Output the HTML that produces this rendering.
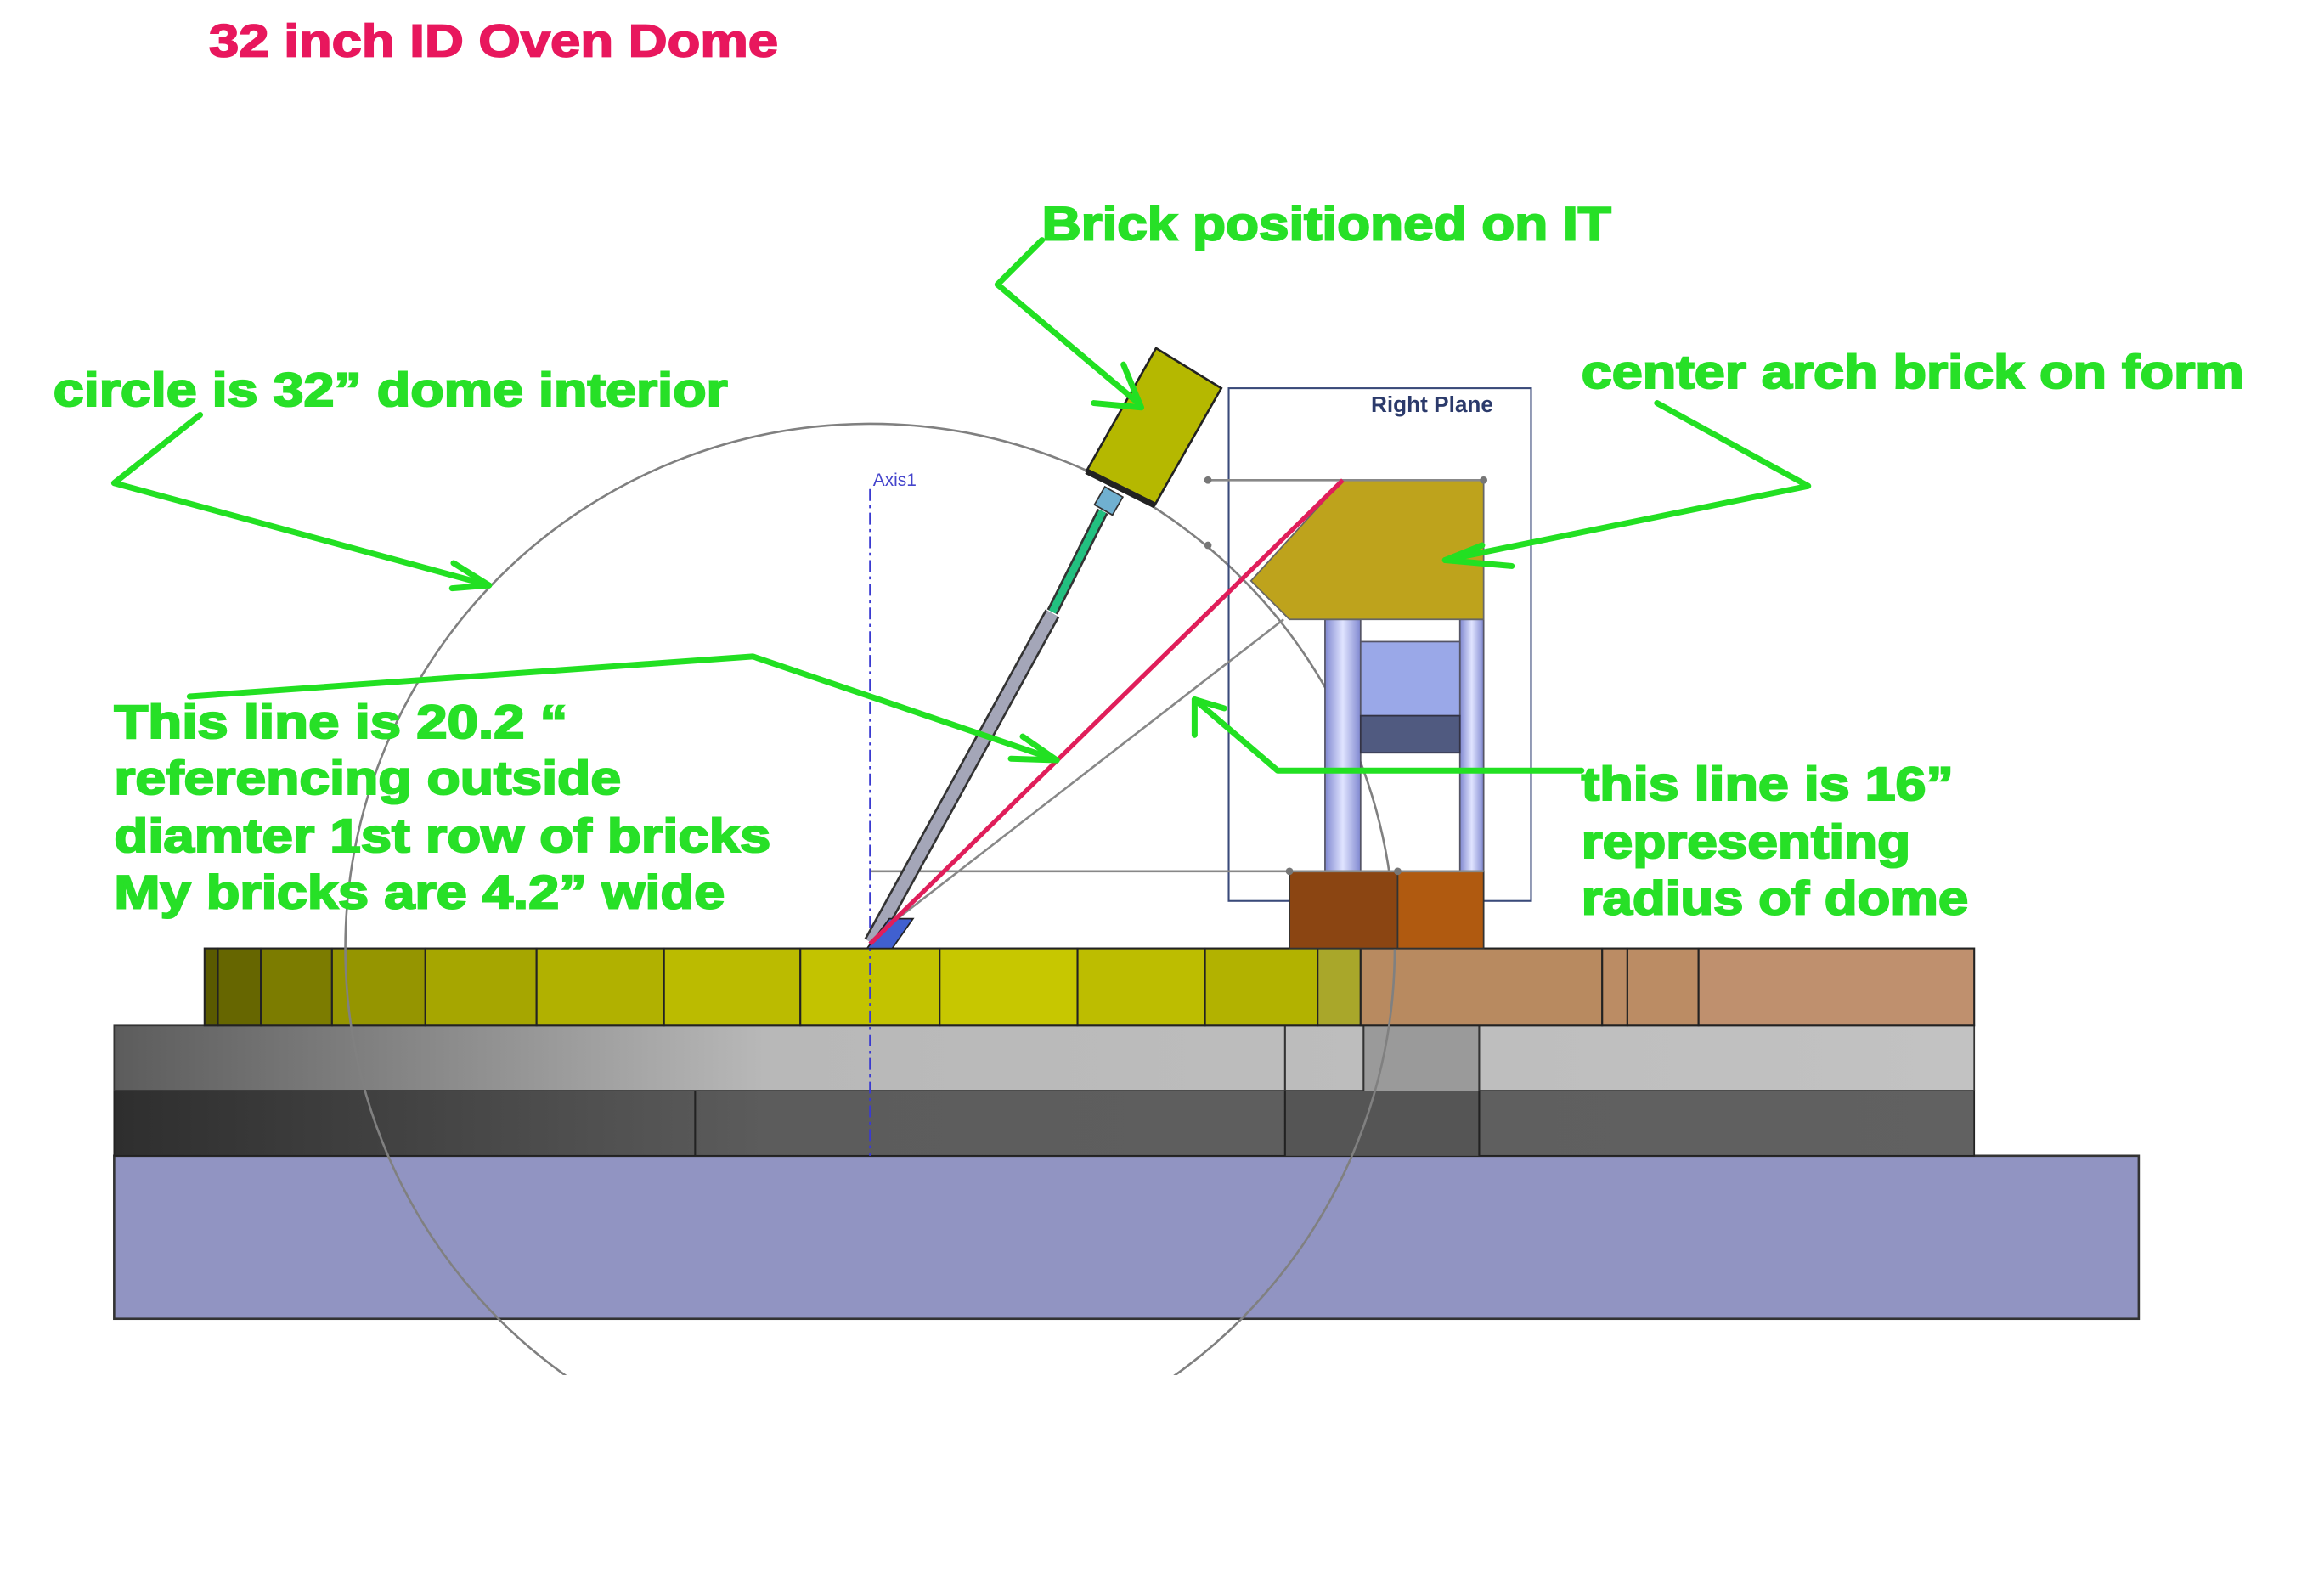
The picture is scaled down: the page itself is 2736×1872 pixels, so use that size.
<!DOCTYPE html>
<html><head><meta charset="utf-8"><style>
html,body{margin:0;padding:0;background:#fff;}
svg{display:block;}
.g{font-family:"Liberation Sans",Arial,sans-serif;font-weight:bold;font-size:32px;fill:#27e027;stroke:#27e027;stroke-width:1.2px;}
</style></head><body>
<svg width="2736" height="1872" viewBox="0 0 1568 1073" preserveAspectRatio="none" xmlns="http://www.w3.org/2000/svg">
<defs>
<linearGradient id="lg1" x1="0" x2="1"><stop offset="0" stop-color="#5c5c5c"/><stop offset="0.35" stop-color="#b8b8b8"/><stop offset="1" stop-color="#c2c2c2"/></linearGradient>
<linearGradient id="lg2" x1="0" x2="1"><stop offset="0" stop-color="#2e2e2e"/><stop offset="0.35" stop-color="#5c5c5c"/><stop offset="1" stop-color="#616161"/></linearGradient>
<linearGradient id="pl" x1="0" x2="1"><stop offset="0" stop-color="#8088d0"/><stop offset="0.5" stop-color="#e0e4ff"/><stop offset="1" stop-color="#8088d0"/></linearGradient>
<clipPath id="cc"><rect x="0" y="0" width="1568" height="928"/></clipPath>
</defs>
<rect width="1568" height="1073" fill="#fff"/>
<text x="141" y="38" font-family="Liberation Sans,Arial,sans-serif" font-weight="bold" font-size="31" fill="#e8175d" stroke="#e8175d" stroke-width="1" textLength="384" lengthAdjust="spacingAndGlyphs">32 inch ID Oven Dome</text>

<rect x="77" y="780" width="1366" height="110" fill="#9194c2" stroke="#333" stroke-width="1.5"/>
<rect x="77" y="736" width="1255" height="44" fill="url(#lg2)" stroke="#222" stroke-width="1"/>
<rect x="867" y="736" width="131" height="44" fill="#555"/>
<g stroke="#222" stroke-width="1.2"><line x1="469" y1="736" x2="469" y2="780"/><line x1="867" y1="736" x2="867" y2="780"/><line x1="998" y1="736" x2="998" y2="780"/></g>
<rect x="77" y="692" width="1255" height="44" fill="url(#lg1)" stroke="#333" stroke-width="1"/>
<rect x="920" y="692" width="78" height="44" fill="#9a9a9a"/>
<g stroke="#333" stroke-width="1.2"><line x1="867" y1="692" x2="867" y2="736"/><line x1="920" y1="692" x2="920" y2="736"/><line x1="998" y1="692" x2="998" y2="736"/></g>

<g stroke="#222" stroke-width="1.2">
<rect x="138" y="640" width="9" height="52" fill="#5a5a00"/>
<rect x="147" y="640" width="29" height="52" fill="#666600"/>
<rect x="176" y="640" width="48" height="52" fill="#7c7c00"/>
<rect x="224" y="640" width="63" height="52" fill="#959500"/>
<rect x="287" y="640" width="75" height="52" fill="#a6a600"/>
<rect x="362" y="640" width="86" height="52" fill="#b1b100"/>
<rect x="448" y="640" width="92" height="52" fill="#bbbb00"/>
<rect x="540" y="640" width="94" height="52" fill="#c3c300"/>
<rect x="634" y="640" width="93" height="52" fill="#c7c700"/>
<rect x="727" y="640" width="86" height="52" fill="#bdbd00"/>
<rect x="813" y="640" width="76" height="52" fill="#b2b200"/>
<rect x="889" y="640" width="29" height="52" fill="#a9a72a"/>
<rect x="918" y="640" width="163" height="52" fill="#b88a60"/>
<rect x="1081" y="640" width="17" height="52" fill="#bb8c64"/>
<rect x="1098" y="640" width="48" height="52" fill="#bb8c64"/>
<rect x="1146" y="640" width="186" height="52" fill="#bf906e"/>
</g>

<circle cx="587" cy="640" r="354" fill="none" stroke="#808080" stroke-width="1.5" clip-path="url(#cc)"/>

<rect x="829" y="262" width="204" height="346" fill="none" stroke="#3a4a7a" stroke-width="1.2"/>
<text x="925" y="278" font-family="Liberation Sans,Arial,sans-serif" font-weight="bold" font-size="15" fill="#2b3a6b">Right Plane</text>

<rect x="894" y="418" width="24" height="170" fill="url(#pl)" stroke="#556" stroke-width="1"/>
<rect x="985" y="418" width="16" height="170" fill="url(#pl)" stroke="#556" stroke-width="1"/>
<rect x="918" y="433" width="67" height="50" fill="#9aa8e8" stroke="#556"/>
<rect x="918" y="483" width="67" height="25" fill="#505a80" stroke="#334"/>
<polygon points="844,392 906,324 1001,324 1001,418 870,418" fill="#bea31c" stroke="#666" stroke-width="1"/>
<rect x="870" y="588" width="73" height="52" fill="#8b4512" stroke="#333"/>
<rect x="943" y="588" width="58" height="52" fill="#b05a10" stroke="#333"/>

<g stroke="#888" stroke-width="1.5" fill="none">
<line x1="587" y1="588" x2="1001" y2="588"/>
<line x1="815" y1="324" x2="1001" y2="324"/>
<line x1="590" y1="632" x2="866" y2="418"/>
</g>
<g fill="#777"><circle cx="815" cy="324" r="2.5"/><circle cx="1001" cy="324" r="2.5"/><circle cx="815" cy="368" r="2.5"/><circle cx="870" cy="588" r="2.5"/><circle cx="943" cy="588" r="2.5"/></g>
<line x1="587" y1="330" x2="587" y2="780" stroke="#3a3ad0" stroke-width="1.2" stroke-dasharray="8,3,2,3"/>
<text x="589" y="328" font-family="Liberation Sans,Arial,sans-serif" font-size="12" fill="#4444cc">Axis1</text>

<line x1="588" y1="636" x2="710" y2="414" stroke="#333" stroke-width="11"/>
<line x1="588" y1="636" x2="710" y2="414" stroke="#a4a6b8" stroke-width="8"/>
<line x1="710" y1="413" x2="744" y2="345" stroke="#333" stroke-width="8"/>
<line x1="710" y1="413" x2="744" y2="345" stroke="#22c080" stroke-width="5"/>
<rect x="741" y="331" width="14" height="14" fill="#70b0d0" stroke="#333" transform="rotate(30 748 338)"/>
<polygon points="733,318 780,235 824,262 779,341" fill="#b5b800" stroke="#222" stroke-width="1.5"/>
<line x1="733" y1="318" x2="779" y2="341" stroke="#222" stroke-width="4"/>
<polygon points="585,640 600,620 616,620 602,640" fill="#4060d0" stroke="#222"/>
<line x1="587" y1="637" x2="906" y2="324" stroke="#e01e5a" stroke-width="3"/>

<g stroke="#22e022" stroke-width="4" fill="none" stroke-linejoin="round" stroke-linecap="round">
<polyline points="703,162 673,192 768,272"/><polyline points="738,272 770,275 758,246"/>
<polyline points="135,280 77,326 330,395"/><polyline points="306,380 330,395 305,397"/>
<polyline points="1118,272 1220,328 975,378"/><polyline points="1000,368 975,378 1020,382"/>
<polyline points="128,470 508,443 713,513"/><polyline points="682,512 713,513 690,497"/>
<polyline points="1067,520 862,520 806,472"/><polyline points="806,496 806,472 826,478"/>
</g>
<text class="g" x="703" y="162" textLength="384" lengthAdjust="spacingAndGlyphs">Brick positioned on IT</text>
<text class="g" x="36" y="274" textLength="455" lengthAdjust="spacingAndGlyphs">circle is 32” dome interior</text>
<text class="g" x="1067" y="262" textLength="447" lengthAdjust="spacingAndGlyphs">center arch brick on form</text>
<text class="g" x="77" y="498" textLength="306" lengthAdjust="spacingAndGlyphs">This line is 20.2 “</text>
<text class="g" x="77" y="536" textLength="342" lengthAdjust="spacingAndGlyphs">referencing outside</text>
<text class="g" x="77" y="575" textLength="443" lengthAdjust="spacingAndGlyphs">diamter 1st row of bricks</text>
<text class="g" x="77" y="613" textLength="412" lengthAdjust="spacingAndGlyphs">My bricks are 4.2” wide</text>
<text class="g" x="1067" y="540" textLength="251" lengthAdjust="spacingAndGlyphs">this line is 16”</text>
<text class="g" x="1067" y="579" textLength="222" lengthAdjust="spacingAndGlyphs">representing</text>
<text class="g" x="1067" y="617" textLength="261" lengthAdjust="spacingAndGlyphs">radius of dome</text>
</svg>
</body></html>
